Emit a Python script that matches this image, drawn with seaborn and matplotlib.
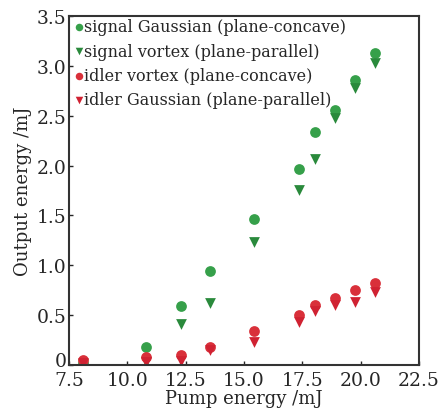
import numpy as np
import matplotlib
matplotlib.use("Agg")
import matplotlib.pyplot as plt
from matplotlib import ticker
from matplotlib.transforms import ScaledTranslation
import seaborn as sns
import pandas as pd

sns.set_style("ticks")
plt.rcParams["font.family"] = ["DejaVu Serif"]

# Data
pump = [8.1, 10.8, 12.3, 13.55, 15.45, 17.35, 18.05, 18.9, 19.75, 20.6]
signal_gauss = [0.02, 0.18, 0.59, 0.94, 1.46, 1.97, 2.34, 2.56, 2.86, 3.13]
signal_vortex = [0.01, 0.03, 0.41, 0.62, 1.23, 1.75, 2.07, 2.48, 2.78, 3.03]
idler_vortex = [0.05, 0.08, 0.10, 0.18, 0.34, 0.50, 0.60, 0.67, 0.75, 0.82]
idler_gauss = [0.02, 0.03, 0.04, 0.15, 0.23, 0.43, 0.54, 0.60, 0.63, 0.73]

series = [
    ("signal Gaussian (plane-concave)", signal_gauss, "o", "#36a04a"),
    ("signal vortex (plane-parallel)", signal_vortex, "v", "#2a8a3c"),
    ("idler vortex (plane-concave)", idler_vortex, "o", "#d9303a"),
    ("idler Gaussian (plane-parallel)", idler_gauss, "v", "#d02232"),
]

fig = plt.figure(figsize=(4.4, 4.14), dpi=100)
ax = fig.add_axes([0.157, 0.116, 0.795, 0.843])

for label, vals, mk, col in series:
    df = pd.DataFrame({"pump": pump, "out": vals})
    sns.scatterplot(data=df, x="pump", y="out", marker=mk, color=col,
                    s=60, linewidth=0, label=label, ax=ax)

ax.set_xlim(7.5, 22.5)
ax.set_ylim(0, 3.5)
ax.xaxis.set_major_locator(ticker.FixedLocator(np.arange(7.5, 22.6, 2.5)))
ax.yaxis.set_major_locator(ticker.FixedLocator(np.arange(0, 3.51, 0.5)))
ax.xaxis.set_major_formatter(ticker.FormatStrFormatter("%.1f"))
ax.yaxis.set_major_formatter(ticker.FuncFormatter(
    lambda v, p: "0" if abs(v) < 1e-9 else f"{v:.1f}"))
ax.tick_params(direction="in", length=3, width=1, labelsize=13.5,
               top=False, right=False)
ax.tick_params(axis="y", pad=2)
ax.tick_params(axis="x", pad=4.5)
for sp in ax.spines.values():
    sp.set_visible(True)
    sp.set_linewidth(1.5)
    sp.set_color("#333333")

ax.set_xlabel("Pump energy /mJ", fontsize=13, labelpad=0)
ax.set_ylabel("Output energy /mJ", fontsize=13, labelpad=3)

ax.legend(loc="upper left", frameon=False, fontsize=11.5,
          markerscale=0.7, handletextpad=-0.2, handlelength=1.0,
          borderaxespad=0.1, labelspacing=0.45, borderpad=0.05)

# lift the "0" label a little so it clears the "7.5" below it
fig.canvas.draw()
for tk in ax.yaxis.get_major_ticks():
    if abs(tk.get_loc()) < 1e-9:
        tk.label1.set_transform(tk.label1.get_transform()
                                + ScaledTranslation(0, 4 / 72, fig.dpi_scale_trans))

plt.savefig("out.png", dpi=100)
